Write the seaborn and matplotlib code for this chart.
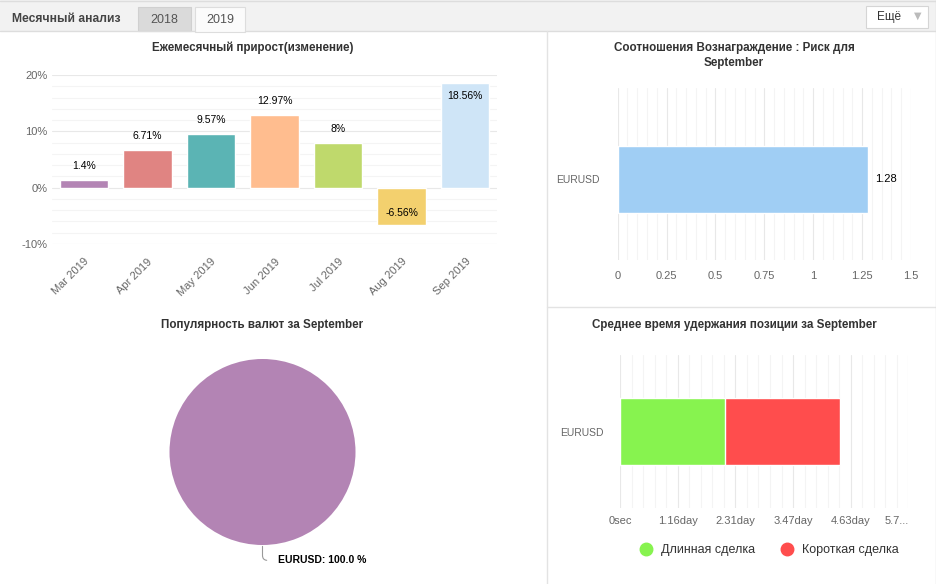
import matplotlib
matplotlib.use("Agg")
import matplotlib.pyplot as plt
import pandas as pd
import seaborn as sns
from matplotlib.lines import Line2D
from matplotlib.patches import Rectangle
from matplotlib.ticker import MultipleLocator, FuncFormatter

# monthly growth
months = ["Mar 2019", "Apr 2019", "May 2019", "Jun 2019", "Jul 2019", "Aug 2019", "Sep 2019"]
growth = [1.4, 6.71, 9.57, 12.97, 8, -6.56, 18.56]
growth_labels = ["1.4%", "6.71%", "9.57%", "12.97%", "8%", "-6.56%", "18.56%"]
month_colors = ["#b384b4", "#e08482", "#5bb4b4", "#ffbd8f", "#bfd96c", "#f3d06e", "#cfe5f7"]

# reward : risk
pairs = ["EURUSD"]
reward_risk = [1.28]

# currency popularity
pie_share = [100.0]

# average holding time, seconds
long_hold = [181500]
short_hold = [200500]
hold_ticks = [0, 100000, 200000, 300000, 400000, 500000]
hold_tick_labels = ["0sec", "1.16day", "2.31day", "3.47day", "4.63day", "5.7..."]

W, H = 937, 584
GRID = "#e8e8e8"
MINOR = "#f4f4f4"
TICK = "#666666"
TITLE = "#333333"
TSIZE = 8.4


def box(x0, y0, x1, y1):
    # pixel rect -> figure fraction
    return [x0 / W, 1 - y1 / H, (x1 - x0) / W, (y1 - y0) / H]


def clean(ax):
    for s in ax.spines.values():
        s.set_visible(False)
    ax.set_facecolor("none")
    ax.set_xlabel("")
    ax.set_ylabel("")
    ax.tick_params(length=0, which="both", colors=TICK, labelsize=8)
    ax.set_axisbelow(True)


def main():
    sns.set_theme(style="white")
    plt.rcParams["font.family"] = ["Liberation Sans", "DejaVu Sans"]

    fig = plt.figure(figsize=(W / 100, H / 100), dpi=100)

    # background / page chrome in pixel coordinates
    bg = fig.add_axes([0, 0, 1, 1])
    bg.set_xlim(0, W)
    bg.set_ylim(H, 0)
    bg.axis("off")
    bg.add_patch(Rectangle((0, 0), W, 31, facecolor="#f2f2f2", edgecolor="none"))
    bg.plot([0, W], [0.5, 0.5], color="#dddddd", lw=1)
    bg.plot([0, 195], [31, 31], color="#dddddd", lw=1)
    bg.plot([245, W], [31, 31], color="#dddddd", lw=1)
    bg.add_patch(Rectangle((138, 7), 53, 24, facecolor="#dadada", edgecolor="#d0d0d0", lw=0.8))
    bg.add_patch(Rectangle((195, 7), 50, 25, facecolor="#fbfbfb", edgecolor="#dddddd", lw=0.8))
    bg.text(12, 19, "Месячный анализ", fontsize=8.7, fontweight="bold", color="#444444", va="center")
    bg.text(164.5, 20, "2018", fontsize=9, color="#555555", ha="center", va="center")
    bg.text(220, 20, "2019", fontsize=9, color="#555555", ha="center", va="center")
    bg.add_patch(Rectangle((866, 6), 62, 22, facecolor="white", edgecolor="#d5d5d5", lw=0.8))
    bg.text(877, 17, "Ещё", fontsize=8.5, color="#333333", va="center")
    bg.text(918, 16, "▼", fontsize=7, color="#bbbbbb", ha="center", va="center",
            family="DejaVu Sans")
    bg.plot([547, 547], [31, H], color="#e3e3e3", lw=1)
    bg.plot([547, W], [307, 307], color="#e3e3e3", lw=1)
    bg.plot([W - 0.5, W - 0.5], [0, H], color="#dddddd", lw=1)

    bg.text(253, 48, "Ежемесячный прирост(изменение)", fontsize=TSIZE, fontweight="bold",
            color=TITLE, ha="center", va="center")
    bg.text(734, 48, "Соотношения Вознаграждение : Риск для", fontsize=TSIZE,
            fontweight="bold", color=TITLE, ha="center", va="center")
    bg.text(734, 63, "September", fontsize=TSIZE, fontweight="bold", color=TITLE,
            ha="center", va="center")
    bg.text(262, 325, "Популярность валют за September", fontsize=TSIZE, fontweight="bold",
            color=TITLE, ha="center", va="center")
    bg.text(734, 325, "Среднее время удержания позиции за September", fontsize=TSIZE,
            fontweight="bold", color=TITLE, ha="center", va="center")

    # ---- monthly growth
    ax1 = fig.add_axes(box(52, 75, 497, 244))
    df1 = pd.DataFrame({"month": months, "growth": growth})
    sns.barplot(data=df1, x="month", y="growth", hue="month", palette=month_colors,
                legend=False, width=0.76, saturation=1, ax=ax1)
    clean(ax1)
    ax1.set_xlim(-0.5, len(months) - 0.5)
    ax1.set_ylim(-10, 20)
    ax1.yaxis.set_major_locator(MultipleLocator(10))
    ax1.yaxis.set_minor_locator(MultipleLocator(2))
    ax1.yaxis.set_major_formatter(FuncFormatter(lambda v, p: f"{v:.0f}%"))
    ax1.grid(axis="y", which="major", color=GRID, lw=0.8)
    ax1.grid(axis="y", which="minor", color=MINOR, lw=0.8)
    ax1.tick_params(axis="y", pad=3)
    ax1.tick_params(axis="x", pad=9)
    for lab in ax1.get_xticklabels():
        lab.set_rotation(45)
        lab.set_ha("right")
        lab.set_va("top")
        lab.set_rotation_mode("anchor")
    for i, (v, t) in enumerate(zip(growth, growth_labels)):
        if v < 0:
            ax1.annotate(t, (i, v), xytext=(0, 8.6), textcoords="offset points",
                         ha="center", va="center", fontsize=7.5, color="black")
        elif v > 17:
            ax1.annotate(t, (i, v), xytext=(0, -9.6), textcoords="offset points",
                         ha="center", va="center", fontsize=7.5, color="black")
        else:
            ax1.annotate(t, (i, v), xytext=(0, 6.5), textcoords="offset points",
                         ha="center", va="bottom", fontsize=7.5, color="black")

    # ---- reward : risk
    ax2 = fig.add_axes(box(617.7, 88, 911, 260))
    df2 = pd.DataFrame({"pair": pairs, "ratio": reward_risk})
    sns.barplot(data=df2, x="ratio", y="pair", orient="h", color="#a0cef4",
                saturation=1, width=0.39, ax=ax2)
    clean(ax2)
    ax2.set_xlim(0, 1.5)
    ax2.set_ylim(0.469, -0.531)
    ax2.xaxis.set_major_locator(MultipleLocator(0.25))
    ax2.xaxis.set_minor_locator(MultipleLocator(0.05))
    ax2.xaxis.set_major_formatter(FuncFormatter(lambda v, p: f"{v:g}"))
    ax2.grid(axis="x", which="major", color=GRID, lw=0.8)
    ax2.grid(axis="x", which="minor", color=MINOR, lw=0.8)
    ax2.tick_params(axis="x", pad=8)
    ax2.tick_params(axis="y", pad=13, labelsize=7.5)
    ax2.get_xticklabels()[-1].set_ha("right")
    for i, v in enumerate(reward_risk):
        ax2.annotate(f"{v:g}", (v, i), xytext=(5, 0), textcoords="offset points",
                     ha="left", va="center", fontsize=8, color="black")

    # ---- currency popularity pie
    ax3 = fig.add_axes(box(169.5, 359, 355.5, 545))
    ax3.pie(pie_share, colors=[month_colors[0]], startangle=90, counterclock=False,
            wedgeprops=dict(linewidth=0))
    ax3.set_xlim(-1, 1)
    ax3.set_ylim(-1, 1)
    ax3.annotate(f"{pairs[0]}: {pie_share[0]:.1f} %", xy=(0, -1), xytext=(0.17, -1.165),
                 ha="left", va="center", fontsize=7.5, fontweight="bold", color="black",
                 annotation_clip=False,
                 arrowprops=dict(arrowstyle="-", color="#999999", lw=0.8,
                                 connectionstyle="angle,angleA=0,angleB=90,rad=5",
                                 shrinkA=6, shrinkB=1))

    # ---- average holding time (stacked)
    ax4 = fig.add_axes(box(620, 355, 908.5, 508))
    df4 = pd.DataFrame({"pair": pairs, "long": long_hold, "short": short_hold})
    df4["total"] = df4["long"] + df4["short"]
    sns.barplot(data=df4, x="total", y="pair", orient="h", color="#ff4d4d",
                saturation=1, width=0.434, ax=ax4)
    sns.barplot(data=df4, x="long", y="pair", orient="h", color="#87f34f",
                saturation=1, width=0.434, edgecolor="white", linewidth=1, ax=ax4)
    clean(ax4)
    ax4.set_xlim(0, 500000)
    ax4.set_ylim(0.5, -0.5)
    ax4.set_xticks(hold_ticks)
    ax4.set_xticklabels(hold_tick_labels)
    ax4.xaxis.set_minor_locator(MultipleLocator(20000))
    ax4.grid(axis="x", which="major", color=GRID, lw=0.8)
    ax4.grid(axis="x", which="minor", color=MINOR, lw=0.8)
    ax4.tick_params(axis="x", pad=6)
    ax4.tick_params(axis="y", pad=12, labelsize=7.5)
    ax4.get_xticklabels()[-1].set_ha("right")

    handles = [
        Line2D([], [], marker="o", ls="", color="#87f34f", markersize=9, label="Длинная сделка"),
        Line2D([], [], marker="o", ls="", color="#ff4d4d", markersize=9, label="Короткая сделка"),
    ]
    fig.legend(handles=handles, loc="center", bbox_to_anchor=(766 / W, 1 - 550 / H),
               ncol=2, frameon=False, fontsize=9, handletextpad=0.2, columnspacing=1.6,
               labelcolor="#333333")

    fig.savefig("out.png", dpi=100, facecolor="white")


if __name__ == "__main__":
    main()
